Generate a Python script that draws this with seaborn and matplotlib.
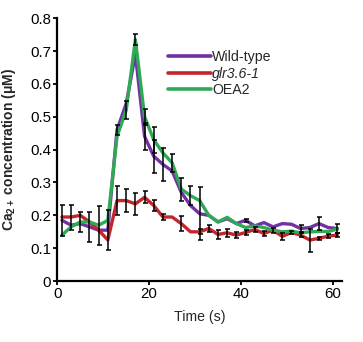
import numpy as np
import pandas as pd
import matplotlib
matplotlib.use("Agg")
import matplotlib.pyplot as plt
import seaborn as sns

time = list(range(1, 62, 2))
series_names = ["Wild-type", "glr3.6-1", "OEA2"]
wild_type = [0.185, 0.170, 0.175, 0.165, 0.155, 0.155, 0.46, 0.54, 0.69, 0.44, 0.38, 0.355,
             0.335, 0.27, 0.23, 0.205, 0.20, 0.18, 0.19, 0.175, 0.185, 0.168, 0.178, 0.165,
             0.175, 0.173, 0.16, 0.163, 0.175, 0.163, 0.16]
glr = [0.195, 0.195, 0.20, 0.18, 0.155, 0.125, 0.245, 0.245, 0.235, 0.255, 0.23, 0.195,
       0.195, 0.175, 0.15, 0.15, 0.16, 0.142, 0.147, 0.14, 0.148, 0.157, 0.145, 0.155,
       0.136, 0.148, 0.14, 0.125, 0.13, 0.137, 0.14]
oea2 = [0.14, 0.165, 0.18, 0.18, 0.17, 0.185, 0.44, 0.52, 0.735, 0.50, 0.43, 0.39,
        0.36, 0.28, 0.26, 0.245, 0.20, 0.18, 0.194, 0.175, 0.163, 0.168, 0.163, 0.155,
        0.15, 0.152, 0.147, 0.15, 0.151, 0.151, 0.158]
wild_type_err = [0.048, 0, 0, 0.045, 0, 0.06, 0.015, 0, 0, 0.04, 0.05, 0.05,
                 0, 0, 0, 0.08, 0, 0, 0, 0, 0.005, 0, 0, 0,
                 0, 0, 0.01, 0, 0.02, 0, 0.015]
glr_err = [0, 0.038, 0, 0, 0, 0, 0.045, 0.035, 0.033, 0.018, 0.018, 0.008,
           0, 0.022, 0, 0.008, 0.012, 0.015, 0.012, 0.01, 0.008, 0.008, 0.008, 0.008,
           0.01, 0.005, 0.005, 0.035, 0.005, 0.005, 0.005]
oea2_err = [0, 0, 0.03, 0, 0.06, 0, 0, 0.027, 0.018, 0.025, 0.04, 0,
            0.027, 0.035, 0.028, 0, 0, 0, 0, 0, 0, 0, 0, 0,
            0, 0, 0, 0, 0, 0, 0]
colors = ["#7133A4", "#C4262E", "#2FA956"]
x_ticks = [0, 20, 40, 60]
y_ticks = [0, 0.1, 0.2, 0.3, 0.4, 0.5, 0.6, 0.7, 0.8]
y_tick_labels = ["0", "0.1", "0.2", "0.3", "0.4", "0.5", "0.6", "0.7", "0.8"]

sns.set_style("ticks")
plt.rcParams["font.family"] = ["Liberation Sans", "DejaVu Sans"]
plt.rcParams["mathtext.fontset"] = "custom"
plt.rcParams["mathtext.rm"] = "Liberation Sans"
plt.rcParams["mathtext.bf"] = "Liberation Sans:bold"

frames = []
for name, vals, errs in zip(series_names, [wild_type, glr, oea2],
                            [wild_type_err, glr_err, oea2_err]):
    frames.append(pd.DataFrame({"Time": time, "Ca": vals, "err": errs, "Line": name}))
df = pd.concat(frames, ignore_index=True)

fig = plt.figure(figsize=(3.63, 3.42), dpi=100)
ax = fig.add_axes([0.158, 0.178, 0.784, 0.769])

sns.lineplot(data=df, x="Time", y="Ca", hue="Line", hue_order=series_names,
             palette=colors, linewidth=2.4, ax=ax, sort=False)

for name in series_names:
    sub = df[(df["Line"] == name) & (df["err"] > 0)]
    ax.errorbar(sub["Time"], sub["Ca"], yerr=sub["err"], fmt="none",
                ecolor="black", elinewidth=1.1, capsize=1.8, capthick=1.1, zorder=5)

ax.set_xlim(0, 62)
ax.set_ylim(0, 0.8)
ax.set_xticks(x_ticks)
ax.set_yticks(y_ticks)
ax.set_yticklabels(y_tick_labels)
ax.tick_params(axis="both", labelsize=10.8, width=1.3, length=3, pad=1.5, colors="black")
for side in ["left", "bottom"]:
    ax.spines[side].set_linewidth(1.6)
    ax.spines[side].set_color("black")
sns.despine(ax=ax)

ax.set_xlabel("Time (s)", fontsize=10.2, labelpad=6)
ax.set_ylabel(r"$\mathbf{Ca_{2+}}$ concentration (μM)", fontsize=10,
              fontweight="bold", labelpad=9)

leg = ax.legend(loc="upper left", bbox_to_anchor=(0.39, 0.88), frameon=False,
                fontsize=10.2, handlelength=3.0, handletextpad=0.1,
                labelspacing=0.2, borderpad=0, borderaxespad=0)
for line in leg.get_lines():
    line.set_linewidth(2.6)
for t in leg.get_texts():
    if t.get_text() == "glr3.6-1":
        t.set_style("italic")

fig.savefig("out.png", dpi=100)
